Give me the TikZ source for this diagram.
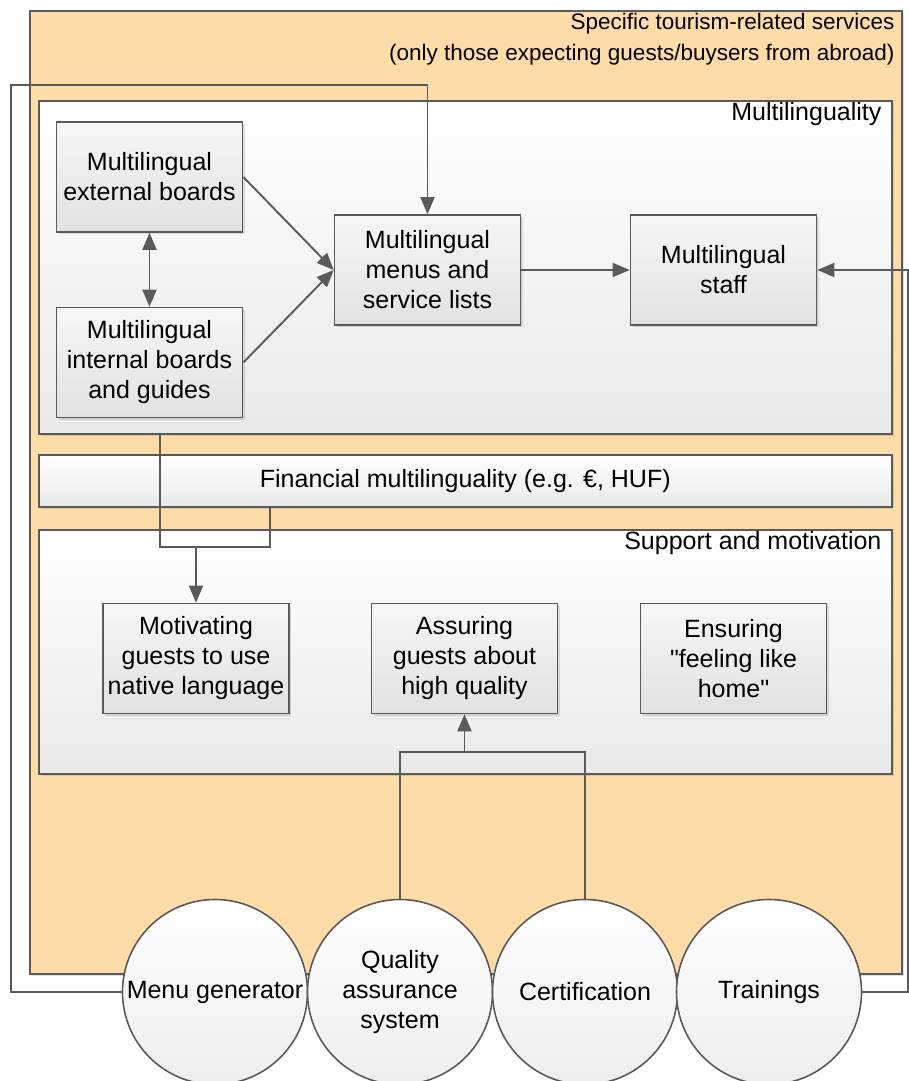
\documentclass[tikz,border=0pt]{standalone}
\usepackage{fontspec}
\setmainfont{Liberation Sans}
\usepackage{tikz}
\usetikzlibrary{arrows.meta,calc,shadows}
\definecolor{tourorange}{HTML}{FDDCA8}
\definecolor{edgegray}{HTML}{5A5A5A}
\definecolor{boxtop}{HTML}{F6F6F6}
\definecolor{boxbottom}{HTML}{E2E2E2}

\begin{document}
\begin{tikzpicture}[x=1pt,y=-1pt,
    font=\fontsize{25}{30}\selectfont,
    shade/.style={drop shadow={shadow xshift=2pt,shadow yshift=-2pt,opacity=0.25}},
    frame/.style={draw=edgegray,line width=1.6pt,rectangle,inner sep=0pt,anchor=north west,top color=white,bottom color=boxbottom!75,shade},
    box/.style={draw=edgegray,line width=1.6pt,rectangle,align=center,minimum width=186pt,minimum height=110pt,top color=boxtop,bottom color=boxbottom,shade},
    tool/.style={draw=edgegray,line width=1.6pt,circle,inner sep=0pt,align=center,minimum size=185pt,top color=white,bottom color=boxbottom!60},
    lbl/.style={anchor=north east,inner sep=0pt,align=right},
    conn/.style={draw=edgegray,line width=1.9pt},
    arr/.style={conn,-{Triangle[length=17pt,width=14pt]}},
    both/.style={conn,{Triangle[length=17pt,width=14pt]}-{Triangle[length=17pt,width=14pt]}}]
  \useasboundingbox (0,0) rectangle (909,1081);

  \node[frame,top color=tourorange,bottom color=tourorange,minimum width=872pt,minimum height=963pt] (tour) at (29,10) {};
  \node[lbl,font=\fontsize{22.5}{31}\selectfont] at ($(tour.north east)+(-8,3)$) {Specific tourism-related services\\(only those expecting guests/buysers from abroad)};

  \node[frame,minimum width=853pt,minimum height=333pt] (multi) at (38,100) {};
  \node[lbl] at ($(multi.north east)+(-11,2)$) {Multilinguality};
  \node[frame,minimum width=853pt,minimum height=52pt,anchor=west] (fin) at (38,481) {};
  \node at (fin.center) {Financial multilinguality (e.g. €, HUF)};
  \node[frame,minimum width=853pt,minimum height=244pt] (supp) at (38,529) {};
  \node[lbl] at ($(supp.north east)+(-11,2)$) {Support and motivation};

  \node[box] (ext) at (149.5,177) {Multilingual\\external boards};
  \node[box] (int) at (149.5,362.5) {Multilingual\\internal boards\\and guides};
  \node[box] (menus) at (427.5,270) {Multilingual\\menus and\\service lists};
  \node[box] (staff) at (723.5,270) {Multilingual\\staff};
  \node[box] (motiv) at (196,658.5) {Motivating\\guests to use\\native language};
  \node[box] (assur) at (464.5,658.5) {Assuring\\guests about\\high quality};
  \node[box] (ensur) at (733.5,658.5) {Ensuring\\\textquotedbl feeling like\\home\textquotedbl};

  \node[tool] (menugen) at (215,992) {Menu generator};
  \node[tool] (quality) at (400,992) {Quality\\assurance\\system};
  \node[tool] (cert) at (585,992) {Certification};
  \node[tool] (train) at (769,992) {Trainings};

  \coordinate (wrapL) at (11,85);
  \coordinate (wrapR) at (908,270);
  \coordinate (jA) at (160,547);
  \coordinate (jB) at (270,547);
  \coordinate (jQ) at (0,752);

  \draw[both] (ext) -- (int);
  \draw[arr] (ext.east) -- (menus.west);
  \draw[arr] (int.east) -- (menus.west);
  \draw[arr] (menus) -- (staff);
  \draw[arr] (menugen.west) -| (wrapL) -| (menus.north);
  \draw[arr] (train.east) -| (wrapR) -- (staff.east);
  \draw[conn] (jA |- multi.south) -- (jA) -- (jB) -- (jB |- fin.south);
  \draw[arr] (jA -| motiv.north) -- (motiv.north);
  \draw[conn] (quality.north) -- (quality.north |- jQ) -- (cert.north |- jQ) -- (cert.north);
  \draw[arr] (assur.south |- jQ) -- (assur.south);
\end{tikzpicture}
\end{document}
